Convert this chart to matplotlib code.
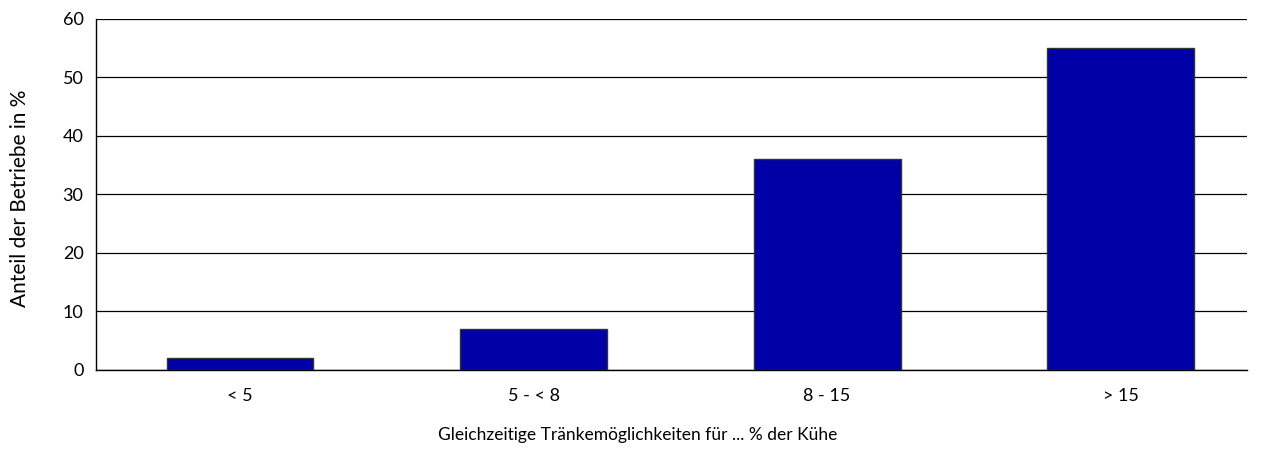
import matplotlib
matplotlib.use('Agg')
import matplotlib.pyplot as plt

categories = ['< 5', '5 - < 8', '8 - 15', '> 15']
anteil = [2, 7, 36, 55]
yticks = [0, 10, 20, 30, 40, 50, 60]

plt.rcParams['font.family'] = ['Lato', 'DejaVu Sans']
plt.rcParams['font.size'] = 13

fig = plt.figure(figsize=(12.67, 4.5), dpi=100)
ax = fig.add_axes([0.0758, 0.1778, 0.9084, 0.78])

x = range(len(categories))
ax.bar(x, anteil, width=0.5, color='#0000A6', edgecolor='#333333', linewidth=1, zorder=3)

ax.set_ylim(0, 60)
ax.set_xlim(-0.49, 3.43)
ax.set_yticks(yticks)
ax.set_xticks(list(x))
ax.set_xticklabels(categories)
ax.yaxis.grid(True, color='black', linewidth=0.9, zorder=0)
ax.set_axisbelow(True)

for side in ['top', 'right']:
    ax.spines[side].set_visible(False)
ax.spines['left'].set_linewidth(1)
ax.spines['bottom'].set_linewidth(1)
ax.tick_params(axis='both', length=0)
ax.tick_params(axis='y', pad=9)
ax.tick_params(axis='x', pad=13)

ax.set_ylabel('Anteil der Betriebe in %', fontsize=15)
ax.set_xlabel('Gleichzeitige Tränkemöglichkeiten für ... % der Kühe', fontsize=12.5)
# labels sit relative to the figure, not the plot area
ax.yaxis.set_label_coords(-0.057, 0.49)
ax.xaxis.set_label_coords(0.471, -0.163)

fig.savefig('out.png', dpi=100, facecolor='white')
